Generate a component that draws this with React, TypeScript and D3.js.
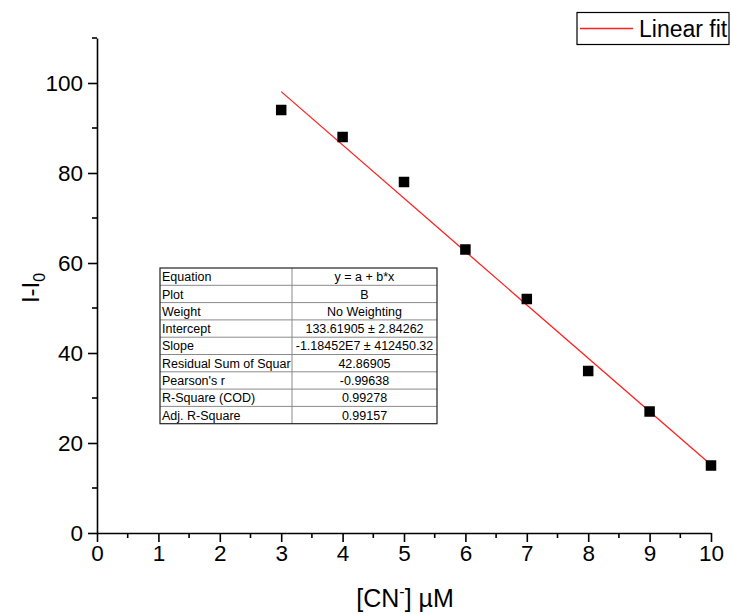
import React, { useEffect, useRef } from "react";
import * as d3 from "d3";

const concentrations = [3, 4, 5, 6, 7, 8, 9, 10];
const intensities = [94, 88, 78, 63, 52, 36, 27, 15];
const fitIntercept = 133.61905;
const fitSlopePerMicroMolar = -11.8452; // -1.18452E7 per M
const fitRange = [3, 10];
const xTickValues = [0, 1, 2, 3, 4, 5, 6, 7, 8, 9, 10];
const xMinorValues = [0.5, 1.5, 2.5, 3.5, 4.5, 5.5, 6.5, 7.5, 8.5, 9.5];
const yTickValues = [0, 20, 40, 60, 80, 100];
const yMinorValues = [10, 30, 50, 70, 90, 110];
const tableLabels = [
  "Equation",
  "Plot",
  "Weight",
  "Intercept",
  "Slope",
  "Residual Sum of Squares",
  "Pearson's r",
  "R-Square (COD)",
  "Adj. R-Square",
];
const tableValues = [
  "y = a + b*x",
  "B",
  "No Weighting",
  "133.61905 ± 2.84262",
  "-1.18452E7 ± 412450.32",
  "42.86905",
  "-0.99638",
  "0.99278",
  "0.99157",
];
const legendLabel = "Linear fit";

const W = 732;
const H = 614;
const FONT = "Arial, 'Liberation Sans', sans-serif";

export default function App() {
  const ref = useRef<SVGSVGElement | null>(null);

  useEffect(() => {
    const svg = d3.select(ref.current);
    svg.selectAll("*").remove();

    const x = d3.scaleLinear().domain([0, 10]).range([97, 711]);
    const y = d3.scaleLinear().domain([0, 110]).range([533, 38]);

    // Fit line
    const line = d3
      .line<number>()
      .x((d) => x(d))
      .y((d) => y(fitIntercept + fitSlopePerMicroMolar * d));
    svg
      .append("path")
      .attr("d", line(fitRange))
      .attr("fill", "none")
      .attr("stroke", "#ff2020")
      .attr("stroke-width", 1.3);

    // Points
    const s = 10.5;
    svg
      .append("g")
      .selectAll("rect")
      .data(concentrations)
      .join("rect")
      .attr("x", (d) => x(d) - s / 2)
      .attr("y", (d, i) => y(intensities[i]) - s / 2)
      .attr("width", s)
      .attr("height", s)
      .attr("fill", "#000");

    // Axes
    const fontSize = 22.5;
    const xAxis = svg.append("g").attr("transform", `translate(0,${y(0)})`);
    xAxis.call(
      d3.axisBottom(x).tickValues(xTickValues).tickSize(9).tickSizeOuter(0).tickPadding(3).tickFormat(d3.format("d"))
    );
    xAxis
      .append("g")
      .selectAll("line")
      .data(xMinorValues)
      .join("line")
      .attr("x1", (d) => x(d))
      .attr("x2", (d) => x(d))
      .attr("y1", 0)
      .attr("y2", 5)
      .attr("stroke", "#000")
      .attr("stroke-width", 1.6);

    const yAxis = svg.append("g").attr("transform", `translate(${x(0)},0)`);
    yAxis.call(
      d3.axisLeft(y).tickValues(yTickValues).tickSize(9).tickSizeOuter(0).tickPadding(5).tickFormat(d3.format("d"))
    );
    yAxis
      .append("g")
      .selectAll("line")
      .data(yMinorValues)
      .join("line")
      .attr("x1", 0)
      .attr("x2", -5)
      .attr("y1", (d) => y(d))
      .attr("y2", (d) => y(d))
      .attr("stroke", "#000")
      .attr("stroke-width", 1.6);

    svg
      .selectAll(".domain, .tick line")
      .attr("stroke", "#000")
      .attr("stroke-width", 1.6);
    svg
      .selectAll(".tick text")
      .attr("font-family", FONT)
      .attr("font-size", fontSize)
      .attr("fill", "#000");

    // Axis titles
    const xt = svg
      .append("text")
      .attr("x", 405)
      .attr("y", 607)
      .attr("text-anchor", "middle")
      .attr("font-family", FONT)
      .attr("font-size", 25)
      .attr("fill", "#000");
    xt.append("tspan").text("[CN");
    xt.append("tspan").attr("font-size", 16).attr("dy", -10).text("-");
    xt.append("tspan").attr("dy", 10).text("] µM");

    const yt = svg
      .append("text")
      .attr("transform", `translate(39,288) rotate(-90)`)
      .attr("text-anchor", "middle")
      .attr("font-family", FONT)
      .attr("font-size", 24)
      .attr("fill", "#000");
    yt.append("tspan").text("I-I");
    yt.append("tspan").attr("font-size", 16).attr("dy", 6).text("0");

    // Table
    const tx0 = 160, tx1 = 292, tx2 = 437, ty0 = 268, rowH = 17.3;
    const tg = svg.append("g");
    const defs = svg.append("defs");
    defs
      .append("clipPath")
      .attr("id", "col1")
      .append("rect")
      .attr("x", tx0)
      .attr("y", ty0)
      .attr("width", tx1 - tx0 - 1)
      .attr("height", rowH * tableLabels.length);
    defs
      .append("clipPath")
      .attr("id", "col2")
      .append("rect")
      .attr("x", tx1)
      .attr("y", ty0)
      .attr("width", tx2 - tx1)
      .attr("height", rowH * tableLabels.length);
    tg.append("rect")
      .attr("x", tx0)
      .attr("y", ty0)
      .attr("width", tx2 - tx0)
      .attr("height", rowH * tableLabels.length)
      .attr("fill", "#fff");
    tableLabels.forEach((lab, i) => {
      if (i > 0) {
        tg.append("line")
          .attr("x1", tx0)
          .attr("x2", tx2)
          .attr("y1", ty0 + i * rowH)
          .attr("y2", ty0 + i * rowH)
          .attr("stroke", "#8a8a8a")
          .attr("stroke-width", 1);
      }
      tg.append("text")
        .attr("x", tx0 + 2)
        .attr("y", ty0 + i * rowH + 13.2)
        .attr("clip-path", "url(#col1)")
        .attr("font-family", FONT)
        .attr("font-size", 12.5)
        .attr("fill", "#000")
        .text(lab);
      tg.append("text")
        .attr("x", (tx1 + tx2) / 2)
        .attr("y", ty0 + i * rowH + 13.2)
        .attr("text-anchor", "middle")
        .attr("clip-path", "url(#col2)")
        .attr("font-family", FONT)
        .attr("font-size", 12.5)
        .attr("fill", "#000")
        .text(tableValues[i]);
    });
    tg.append("line")
      .attr("x1", tx1)
      .attr("x2", tx1)
      .attr("y1", ty0)
      .attr("y2", ty0 + rowH * tableLabels.length)
      .attr("stroke", "#8a8a8a")
      .attr("stroke-width", 1);
    tg.append("rect")
      .attr("x", tx0)
      .attr("y", ty0)
      .attr("width", tx2 - tx0)
      .attr("height", rowH * tableLabels.length)
      .attr("fill", "none")
      .attr("stroke", "#222")
      .attr("stroke-width", 1.2);

    // Legend
    const lg = svg.append("g");
    lg.append("rect")
      .attr("x", 577)
      .attr("y", 12.5)
      .attr("width", 152)
      .attr("height", 32)
      .attr("fill", "#fff")
      .attr("stroke", "#000")
      .attr("stroke-width", 1.2);
    lg.append("line")
      .attr("x1", 580)
      .attr("x2", 633)
      .attr("y1", 28.5)
      .attr("y2", 28.5)
      .attr("stroke", "#ff2020")
      .attr("stroke-width", 1.3);
    lg.append("text")
      .attr("x", 639)
      .attr("y", 36.5)
      .attr("font-family", FONT)
      .attr("font-size", 23)
      .attr("fill", "#000")
      .text(legendLabel);
  }, []);

  return (
    <svg
      ref={ref}
      width={W}
      height={H}
      style={{ position: "absolute", left: 0, top: 0, background: "#fff" }}
    />
  );
}
